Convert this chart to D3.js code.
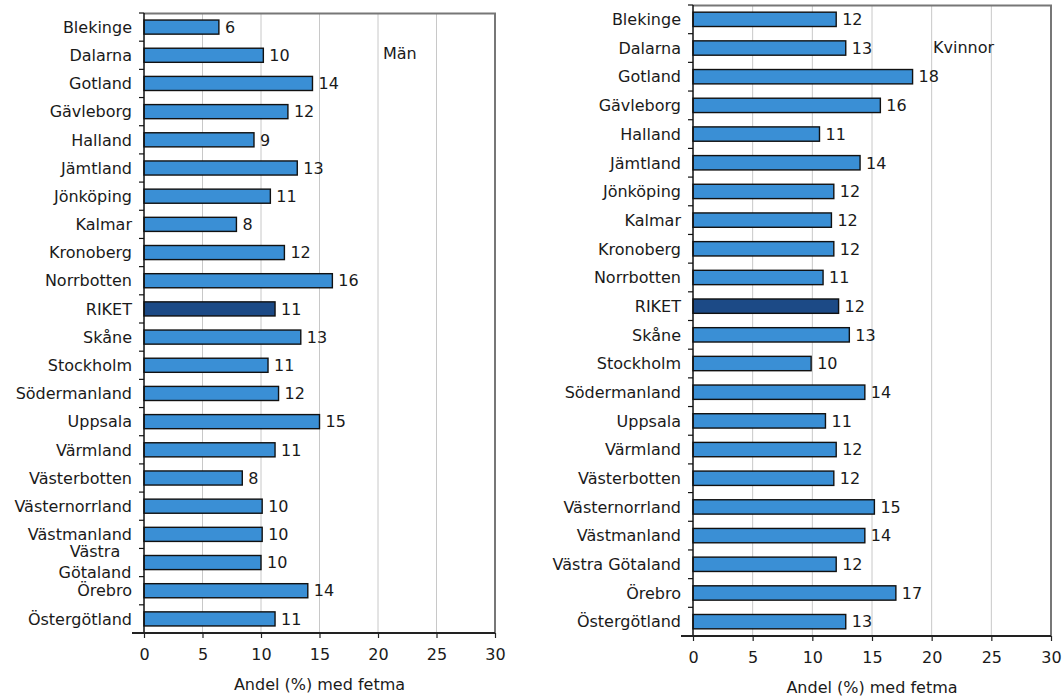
<!DOCTYPE html>
<html>
<head>
<meta charset="utf-8">
<script src="https://cdn.jsdelivr.net/npm/d3@7"></script>
<style>
  body { margin: 0; background: #fff; }
  svg text { font-family: "DejaVu Sans", Verdana, sans-serif; fill: #1a1a1a; }
</style>
</head>
<body>
<div id="vis"></div>
<script>
// Regions (same order in both panels)
const regions = ['Blekinge', 'Dalarna', 'Gotland', 'Gävleborg', 'Halland', 'Jämtland', 'Jönköping',
  'Kalmar', 'Kronoberg', 'Norrbotten', 'RIKET', 'Skåne', 'Stockholm', 'Södermanland', 'Uppsala',
  'Värmland', 'Västerbotten', 'Västernorrland', 'Västmanland', 'Västra Götaland', 'Örebro', 'Östergötland'];

// Andel (%) med fetma
const menValues = [6.4, 10.2, 14.4, 12.3, 9.4, 13.1, 10.8, 7.9, 12.0, 16.1, 11.2, 13.4, 10.6, 11.5,
  15.0, 11.2, 8.4, 10.1, 10.1, 10.0, 14.0, 11.2];
const womenValues = [12.0, 12.8, 18.4, 15.7, 10.6, 14.0, 11.8, 11.6, 11.8, 10.9, 12.2, 13.1, 9.9, 14.4,
  11.1, 12.0, 11.8, 15.2, 14.4, 12.0, 17.0, 12.8];

const xTicks = [0, 5, 10, 15, 20, 25, 30];
const axisTitle = 'Andel (%) med fetma';

const svg = d3.select('#vis').append('svg')
    .attr('width', 1063)
    .attr('height', 698);

const fs = '16px';

// one panel per sex; box = plot area in page pixels
function drawPanel(values, title, box, opts) {
    const x = d3.scaleLinear().domain([0, 30]).range([box.left, box.right]);
    const y = d3.scaleBand().domain(regions).range([box.top, box.bottom]).paddingInner(0.5).paddingOuter(0.25);
    const step = y.step();
    const g = svg.append('g');

    // vertical grid lines
    g.selectAll('line.grid')
        .data(xTicks.filter(d => d > 0 && d < 30))
        .enter().append('line')
        .attr('x1', d => x(d)).attr('x2', d => x(d))
        .attr('y1', box.top).attr('y2', box.bottom)
        .attr('stroke', '#c8c8c8').attr('stroke-width', 1);

    // top and right border of plot area
    g.append('path')
        .attr('d', `M${box.left},${box.top + 0.5}H${box.right}V${box.bottom}`)
        .attr('fill', 'none').attr('stroke', '#777').attr('stroke-width', 2);

    // bars
    g.selectAll('rect.bar')
        .data(regions)
        .enter().append('rect')
        .attr('x', x(0))
        .attr('y', d => y(d))
        .attr('width', (d, i) => x(values[i]) - x(0))
        .attr('height', y.bandwidth())
        .attr('fill', d => d === 'RIKET' ? '#1c4a86' : '#3a8fd5')
        .attr('stroke', '#111').attr('stroke-width', 1.4);

    // value labels
    g.selectAll('text.val')
        .data(regions)
        .enter().append('text')
        .attr('x', (d, i) => x(values[i]) + 6)
        .attr('y', d => y(d) + y.bandwidth() / 2)
        .attr('dy', '0.36em')
        .style('font-size', fs)
        .text((d, i) => Math.round(values[i]));

    // category labels
    const lab = g.selectAll('text.cat')
        .data(regions)
        .enter().append('text')
        .attr('y', d => y(d) + y.bandwidth() / 2)
        .attr('dy', '0.36em')
        .style('font-size', fs)
        .attr('text-anchor', 'end')
        .attr('x', box.left - 12);
    lab.each(function(d) {
        const t = d3.select(this);
        if (opts.wrap && d.includes(' ')) {
            const parts = d.split(' ');
            t.attr('text-anchor', 'middle').attr('x', box.left - 12 - opts.wrapHalf);
            t.append('tspan').attr('x', box.left - 12 - opts.wrapHalf).attr('dy', '-0.32em').text(parts[0]);
            t.append('tspan').attr('x', box.left - 12 - opts.wrapHalf).attr('dy', '1.3em').text(parts[1]);
        } else {
            t.text(d);
        }
    });

    // left axis line with ticks between categories
    g.append('line')
        .attr('x1', box.left).attr('x2', box.left)
        .attr('y1', box.top).attr('y2', box.bottom)
        .attr('stroke', '#111').attr('stroke-width', 1.5);
    g.selectAll('line.ytick')
        .data(d3.range(regions.length + 1))
        .enter().append('line')
        .attr('x1', box.left - 5).attr('x2', box.left)
        .attr('y1', i => box.top + i * step).attr('y2', i => box.top + i * step)
        .attr('stroke', '#111').attr('stroke-width', 1.2);

    // bottom axis
    const xAxis = d3.axisBottom(x).tickValues(xTicks).tickSize(5).tickPadding(11);
    const ax = g.append('g')
        .attr('transform', `translate(0,${box.bottom})`)
        .call(xAxis);
    ax.select('.domain').attr('stroke', '#222').attr('stroke-width', 1.8)
        .attr('d', `M${box.left - 12},0H${box.right}`);
    ax.selectAll('.tick line').attr('stroke', '#222').attr('stroke-width', 1.2);
    ax.selectAll('.tick text').style('font-size', fs).style('font-family', '"DejaVu Sans", Verdana, sans-serif').attr('fill', '#1a1a1a');

    // axis title
    g.append('text')
        .attr('x', (box.left + box.right) / 2)
        .attr('y', box.bottom + opts.titleOffset)
        .attr('dy', '0.36em')
        .attr('text-anchor', 'middle')
        .style('font-size', fs)
        .text(axisTitle);

    // panel caption
    g.append('text')
        .attr('x', opts.captionX)
        .attr('y', opts.captionY)
        .attr('dy', '0.36em')
        .style('font-size', fs)
        .text(title);
}

drawPanel(menValues, 'Män', {left: 144, right: 495, top: 13, bottom: 633},
    {wrap: true, wrapHalf: 37, titleOffset: 51, captionX: 383, captionY: 53});
drawPanel(womenValues, 'Kvinnor', {left: 693, right: 1051, top: 5, bottom: 636},
    {wrap: false, titleOffset: 51, captionX: 933, captionY: 47});
</script>
</body>
</html>
